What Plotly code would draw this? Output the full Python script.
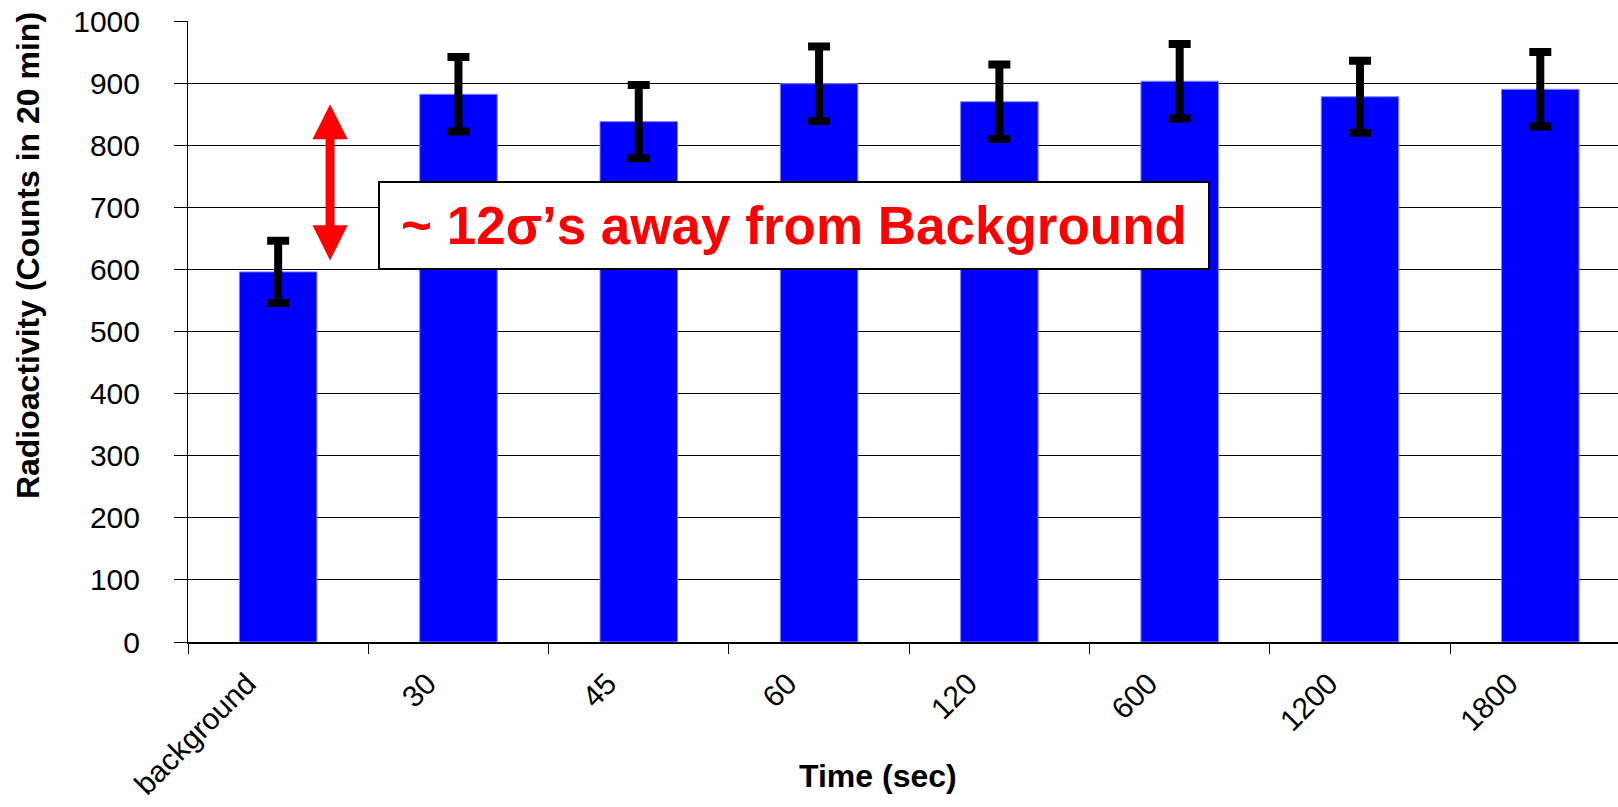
import plotly.graph_objects as go

categories = ["background", "30", "45", "60", "120", "600", "1200", "1800"]
counts = [596, 882, 838, 899, 870, 903, 878, 890]
errors = [50, 60, 59, 60, 60, 60, 58, 60]
y_ticks = list(range(0, 1001, 100))

W, H = 1618, 807
ML, MR, MT, MB = 188, 0, 21, 165

fig = go.Figure()
fig.add_trace(go.Bar(
    x=categories, y=counts,
    width=0.43,
    marker=dict(color="#0000FF", line=dict(color="rgb(130,130,255)", width=1)),
    error_y=dict(type="data", array=errors, visible=True,
                 color="black", thickness=8, width=11),
))

font_family = "Liberation Sans, Arial, sans-serif"

fig.update_layout(
    width=W, height=H,
    margin=dict(l=ML, r=MR, t=MT, b=MB, autoexpand=False),
    paper_bgcolor="white", plot_bgcolor="white",
    showlegend=False,
    font=dict(family=font_family, color="black"),
)

fig.update_xaxes(
    type="category",
    range=[-0.5, 7.431],
    tickson="boundaries",
    ticks="outside", ticklen=10, tickwidth=1, tickcolor="black",
    showline=True, linecolor="black", linewidth=2,
    showgrid=False,
    tickangle=-45,
    tickfont=dict(size=30, family=font_family, color="black"),
    ticklabelstandoff=10,
    ticklabelshift=-31,
    ticklabeloverflow="allow",
)

fig.update_yaxes(
    range=[0, 1000],
    tickvals=y_ticks,
    ticks="outside", ticklen=13, tickwidth=1, tickcolor="black",
    showline=True, linecolor="black", linewidth=1,
    showgrid=True, gridcolor="black", gridwidth=1,
    zeroline=False,
    tickfont=dict(size=30, family=font_family, color="black"),
    ticklabelstandoff=28,
    ticklabeloverflow="allow",
)

# y-axis title (placed above centre, as in the original)
fig.add_annotation(
    xref="paper", yref="paper", x=-0.1119, y=0.623,
    text="<b>Radioactivity (Counts in 20 min)</b>", showarrow=False,
    textangle=-90,
    font=dict(size=32, family=font_family, color="black"),
    xanchor="center", yanchor="middle",
)

# x-axis title
fig.add_annotation(
    xref="paper", yref="paper", x=0.4825, y=-0.215,
    text="<b>Time (sec)</b>", showarrow=False,
    font=dict(size=32, family=font_family, color="black"),
    xanchor="center", yanchor="middle",
)

# double-headed red arrow
fig.add_annotation(
    xref="x", yref="y", axref="x", ayref="y",
    x=0.288, y=866, ax=0.288, ay=612,
    text="", showarrow=True,
    arrowhead=2, startarrowhead=2, arrowside="end+start",
    arrowwidth=9, arrowsize=0.78, startarrowsize=0.78,
    arrowcolor="#FF0000", standoff=0, startstandoff=0,
)

# boxed label
fig.add_annotation(
    xref="x", yref="y", x=2.861, y=670.5,
    text="<b>~ 12σ’s away from Background</b>", showarrow=False,
    font=dict(size=53, family=font_family, color="#FF0000"),
    bgcolor="white", bordercolor="black", borderwidth=2, borderpad=0,
    width=828, height=85, align="center", valign="middle",
    xanchor="center", yanchor="middle",
)

fig.write_html(
    "out.html",
    config={"displayModeBar": False},
    post_script="document.body.style.margin='0';document.body.style.overflow='hidden';",
)
